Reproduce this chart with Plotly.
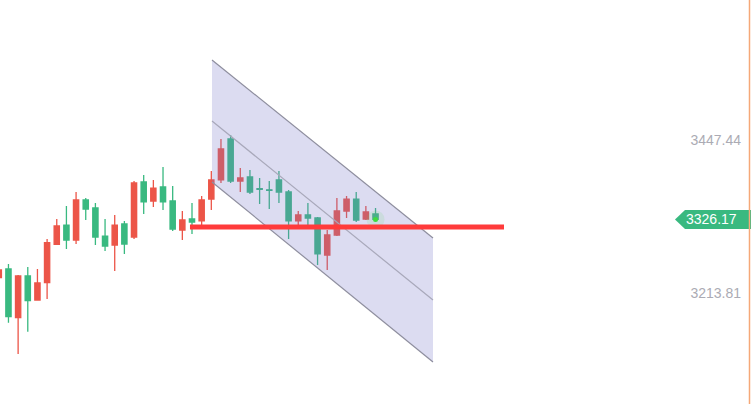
import plotly.graph_objects as go

# ---- data ----
idx = list(range(40))
opens = [3237.2, 3250.5, 3176.1, 3239.8, 3203.1, 3229.5, 3288.2, 3317.6, 3294.7, 3355.8,
         3343.6, 3300.8, 3287.1, 3319.2, 3299.3, 3383.3, 3354.3, 3375.7, 3354.3, 3310.0,
         3326.8, 3323.8, 3357.3, 3386.4, 3449.0, 3384.8, 3390.9, 3373.0, 3371.4, 3386.4,
         3368.0, 3323.8, 3332.9, 3328.3, 3271.8, 3302.4, 3339.0, 3357.3, 3326.8, 3334.4]
highs = [3255.0, 3258.1, 3241.3, 3253.5, 3250.5, 3296.3, 3326.8, 3346.7, 3368.0, 3358.9,
         3351.2, 3326.8, 3332.9, 3323.8, 3384.8, 3394.0, 3386.4, 3406.2, 3377.2, 3339.0,
         3351.2, 3361.9, 3400.1, 3449.0, 3455.1, 3404.7, 3401.6, 3389.4, 3384.8, 3400.1,
         3371.1, 3339.0, 3351.2, 3329.9, 3310.0, 3358.9, 3361.9, 3368.0, 3346.7, 3343.6]
lows = [3230.6, 3168.5, 3120.7, 3154.7, 3203.1, 3204.6, 3287.1, 3281.0, 3288.6, 3325.3,
        3287.1, 3277.9, 3247.4, 3273.4, 3296.3, 3334.4, 3345.1, 3340.6, 3308.5, 3294.7,
        3303.9, 3316.1, 3340.6, 3381.8, 3381.8, 3368.0, 3365.0, 3349.7, 3342.1, 3351.2,
        3296.3, 3317.6, 3317.6, 3256.6, 3248.9, 3300.8, 3328.3, 3322.2, 3325.3, 3323.8]
closes = [3248.9, 3177.6, 3239.8, 3202.1, 3229.1, 3290.6, 3316.1, 3294.7, 3355.8, 3342.1,
          3299.3, 3285.6, 3317.6, 3288.6, 3381.8, 3352.8, 3374.1, 3352.8, 3311.5, 3325.3,
          3322.2, 3355.8, 3386.4, 3433.7, 3384.8, 3389.4, 3368.0, 3372.2, 3370.6, 3368.0,
          3323.8, 3332.9, 3328.3, 3273.4, 3302.4, 3339.0, 3357.3, 3325.3, 3337.5, 3326.17]

ytick_vals = [3213.81, 3447.44]
ytick_text = ["3213.81", "3447.44"]
last_price = 3326.17
last_price_text = "3326.17"

# parallel channel drawing (bar index, price)
channel_x = [22.07, 44.95]
channel_upper = [3569.6, 3297.8]
channel_mid = [3476.5, 3203.1]
channel_lower = [3383.3, 3108.4]

# horizontal line drawing
hline_x = [19.79, 52.3]
hline_price = [3314.6, 3314.6]

RED = "#EC5548"
GREEN = "#39B980"

fig = go.Figure()
fig.add_trace(go.Candlestick(
    x=idx, open=opens, high=highs, low=lows, close=closes,
    increasing=dict(line=dict(color=RED, width=1.3), fillcolor=RED),
    decreasing=dict(line=dict(color=GREEN, width=1.3), fillcolor=GREEN),
    whiskerwidth=0, showlegend=False, hoverinfo="skip",
))

# channel fill (drawn above the candles, translucent)
poly_x = [channel_x[0], channel_x[1], channel_x[1], channel_x[0], channel_x[0]]
poly_y = [channel_upper[0], channel_upper[1], channel_lower[1], channel_lower[0], channel_upper[0]]
fig.add_trace(go.Scatter(x=poly_x, y=poly_y, fill="toself", mode="lines",
                         line=dict(width=0), fillcolor="rgba(119,119,200,0.26)",
                         showlegend=False, hoverinfo="skip"))
for ys, col in [(channel_upper, "#8E8E9E"), (channel_lower, "#8E8E9E"), (channel_mid, "#A8A8BA")]:
    fig.add_trace(go.Scatter(x=channel_x, y=ys, mode="lines",
                             line=dict(color=col, width=1.2),
                             showlegend=False, hoverinfo="skip"))

# glow on the last price
fig.add_trace(go.Scatter(x=[idx[-1]], y=[closes[-1]], mode="markers",
                         marker=dict(size=18, color="rgba(80,210,80,0.12)", line=dict(width=0)),
                         showlegend=False, hoverinfo="skip"))
fig.add_trace(go.Scatter(x=[idx[-1]], y=[closes[-1]], mode="markers",
                         marker=dict(size=5, color="#3EDB3E", line=dict(width=0)),
                         showlegend=False, hoverinfo="skip"))

# red horizontal line
fig.add_trace(go.Scatter(x=hline_x, y=hline_price, mode="lines",
                         line=dict(color="#FF3B3B", width=5),
                         showlegend=False, hoverinfo="skip"))

# price tag
fig.add_shape(type="path", xref="paper", yref="y", xsizemode="pixel", ysizemode="pixel",
              xanchor=1, yanchor=last_price,
              path="M -76,0 L -66,9.5 L 0,9.5 L 0,-9.5 L -66,-9.5 Z",
              fillcolor=GREEN, line=dict(width=0), layer="above")
fig.add_annotation(x=0.9468, xref="paper", y=last_price, yref="y", text=last_price_text,
                   showarrow=False, xanchor="center", yanchor="middle",
                   font=dict(color="white", size=14, family="Liberation Sans, Arial, sans-serif"))

# orange right border
fig.add_shape(type="line", xref="paper", yref="paper", x0=0.998, x1=0.998, y0=0, y1=1,
              line=dict(color="#F5A878", width=1.5), layer="above")

fig.update_layout(
    width=751, height=404,
    margin=dict(l=0, r=0, t=0, b=0),
    paper_bgcolor="white", plot_bgcolor="white",
    boxgap=0.22,
    xaxis=dict(range=[0.124, 77.87], showgrid=False, zeroline=False, showticklabels=False,
               showline=False, ticks="", rangeslider=dict(visible=False)),
    yaxis=dict(range=[3044.3, 3661.22], side="right", showgrid=False, zeroline=False,
               showline=False, ticks="", tickvals=ytick_vals, ticktext=ytick_text,
               ticklabelposition="inside", ticklabelstandoff=7,
               tickfont=dict(color="#ABABB4", size=14, family="Liberation Sans, Arial, sans-serif")),
    hovermode=False,
)

fig.write_html("out.html", config={"displayModeBar": False},
               post_script="document.body.style.margin='0';document.body.style.overflow='hidden';")
